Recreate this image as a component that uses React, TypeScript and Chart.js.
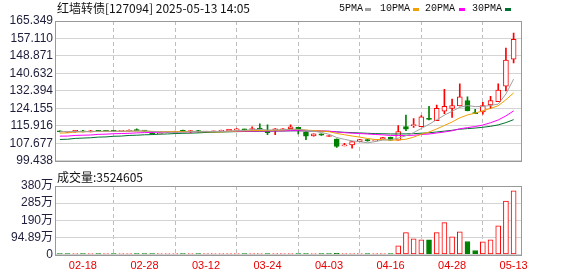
import React, { useEffect, useRef } from 'react';
import { Chart, registerables } from 'chart.js';
Chart.register(...registerables);

const dates = [
  '02-13','02-14','02-17','02-18','02-19','02-20','02-21','02-24','02-25','02-26',
  '02-27','02-28','03-03','03-04','03-05','03-06','03-07','03-10','03-11','03-12',
  '03-13','03-14','03-17','03-18','03-19','03-20','03-21','03-24','03-25','03-26',
  '03-27','03-28','03-31','04-01','04-02','04-03','04-07','04-08','04-09','04-10',
  '04-11','04-14','04-15','04-16','04-17','04-18','04-21','04-22','04-23','04-24',
  '04-25','04-28','04-29','04-30','05-06','05-07','05-08','05-09','05-12','05-13',
];

const opens = [
  113.35,112.9,113.0,113.4,113.05,113.5,113.8,113.5,113.3,113.35,
  114.1,113.6,112.6,112.15,112.9,112.9,113.5,113.2,113.7,113.0,
  113.05,113.3,113.5,114.0,114.3,114.2,114.85,113.9,113.8,113.95,
  114.56,115.17,113.03,111.2,112.1,110.9,109.7,106.5,106.95,108.5,
  109.4,108.85,109.7,110.5,109.2,115.6,116.0,115.5,119.4,118.4,
  122.8,124.15,125.35,127.8,122.15,122.5,125.8,127.3,134.65,147.4,
];
const highs = [
  113.4,113.1,113.85,113.8,113.8,113.8,113.85,113.8,113.45,114.0,
  114.55,113.7,112.7,112.6,113.1,113.4,113.9,113.8,113.8,113.2,
  113.2,113.9,114.3,114.6,114.35,115.5,116.85,116.4,114.6,114.6,
  116.4,115.2,113.1,112.2,112.2,111.4,109.8,107.7,108.5,109.6,
  109.5,109.2,110.5,110.6,116.1,120.96,119.3,120.8,125.1,125.7,
  133.1,128.5,135.7,129.6,123.7,127.0,129.8,135.7,152.6,159.7,
];
const lows = [
  113.1,112.8,112.9,113.0,113.0,113.3,113.3,113.2,113.2,113.3,
  113.6,113.3,112.1,112.1,112.8,112.9,113.2,112.6,112.9,112.9,
  113.0,113.2,113.4,114.0,113.9,113.9,114.3,111.8,111.8,113.9,
  114.5,112.1,109.4,111.1,111.4,110.8,105.7,106.5,105.45,108.4,
  108.7,108.7,109.6,109.1,109.2,113.6,115.2,115.5,118.7,118.4,
  121.7,119.9,125.35,123.0,121.6,121.4,124.0,127.3,132.4,145.6,
];
const closes = [
  113.15,113.0,113.8,113.05,113.5,113.35,113.35,113.3,113.35,113.8,
  113.65,113.4,112.15,112.5,113.0,113.35,113.3,113.7,113.0,113.1,
  113.1,113.5,114.3,114.3,114.0,114.3,114.4,112.7,114.56,114.56,
  115.48,113.8,111.06,112.1,111.5,111.3,106.2,106.7,108.5,109.5,
  108.8,109.0,110.4,109.2,113.2,114.4,116.4,120.2,118.95,124.15,
  125.06,125.5,129.6,123.1,121.7,125.5,127.8,132.8,146.95,156.7,
];
const volumes = [
  32000,25000,41000,28000,30000,22000,27000,19000,21000,35000,
  38000,24000,45000,30000,26000,29000,23000,31000,28000,20000,
  18000,26000,42000,33000,25000,36000,40000,48000,37000,29000,
  44000,39000,52000,30000,27000,24000,60000,35000,41000,38000,
  30000,26000,34000,40000,479000,1216000,866000,811000,811000,1216000,
  1769000,977000,1253000,719000,221000,700000,811000,1585000,2966000,3524605,
];

const ma5 = [
  113.2,113.15,113.25,113.2,113.3,113.34,113.41,113.31,113.37,113.43,
  113.49,113.5,113.27,113.1,112.94,112.88,112.86,113.17,113.27,113.29,
  113.24,113.28,113.4,113.66,113.84,114.08,114.26,113.94,113.99,114.1,
  114.34,114.22,113.89,113.4,112.79,111.95,110.43,109.56,108.84,108.44,
  107.94,108.5,109.24,109.38,110.12,111.24,112.72,114.68,116.63,118.82,
  120.95,122.77,124.65,125.48,124.99,125.08,125.54,126.18,130.95,137.95,
];
const ma10 = [
  112.5,112.6,113.0,113.1,113.2,113.25,113.3,113.3,113.35,113.37,
  113.42,113.46,113.29,113.24,113.19,113.19,113.18,113.22,113.19,113.12,
  113.06,113.07,113.29,113.47,113.57,113.66,113.77,113.67,113.83,113.97,
  114.21,114.24,113.92,113.7,113.45,113.15,112.33,111.73,111.12,110.61,
  109.95,109.47,109.4,109.11,109.28,109.59,110.61,111.96,113.0,114.47,
  116.1,117.75,119.67,121.06,121.91,123.02,124.16,125.42,128.22,131.47,
];
const ma20 = [
  111.06,111.1,111.4,111.5,111.6,111.9,112.0,112.2,112.3,112.4,
  112.6,112.75,112.8,112.9,112.95,113.0,113.05,113.1,113.2,113.24,
  113.24,113.26,113.29,113.35,113.38,113.42,113.48,113.45,113.51,113.54,
  113.64,113.66,113.6,113.58,113.51,113.4,113.05,112.7,112.47,112.29,
  112.08,111.85,111.66,111.4,111.36,111.37,111.47,111.84,112.06,112.54,
  113.02,113.61,114.53,115.08,115.59,116.3,117.38,118.69,120.61,122.97,
];
const ma30 = [
  109.5,109.6,110.0,110.15,110.3,110.6,110.7,111.0,111.1,111.4,
  111.5,111.7,111.8,112.0,112.1,112.3,112.4,112.5,112.6,112.8,
  112.9,113.0,113.1,113.2,113.25,113.3,113.35,113.4,113.45,113.48,
  113.56,113.59,113.5,113.47,113.4,113.33,113.09,112.87,112.71,112.57,
  112.41,112.26,112.2,112.09,112.1,112.13,112.24,112.45,112.65,113.02,
  113.42,113.82,114.33,114.62,114.88,115.25,115.7,116.37,117.45,118.85,
];

const priceTicks = [99.438, 107.677, 115.916, 124.155, 132.394, 140.632, 148.871, 157.110, 165.349];
const volTicks = [0, 948900, 1897800, 2846700, 3795600];
const volTickLabels = ['0', '94.89万', '190万', '285万', '380万'];
const dateTickIdx = [3, 11, 19, 27, 35, 43, 51, 59];

const RED = '#ff0000';
const GREEN = '#008000';
const MA_COLORS = ['#a0a0a0', '#f0a000', '#ff00ff', '#007030'];
const LABEL_FONT = "'Liberation Sans', 'Noto Sans CJK SC', sans-serif";

const framePlugin = {
  id: 'frame',
  afterDraw(chart: any) {
    const { ctx, chartArea: a } = chart;
    ctx.save();
    ctx.strokeStyle = '#999999';
    ctx.lineWidth = 1;
    ctx.strokeRect(Math.round(a.left) + 0.5, Math.round(a.top) + 0.5, Math.round(a.right - a.left) - 1, Math.round(a.bottom - a.top));
    ctx.restore();
  },
};

const X_MIN = -0.63;
const X_MAX = 60.09;

function xScale(showLabels: boolean, height: number) {
  return {
    type: 'linear',
    min: X_MIN,
    max: X_MAX,
    offset: false,
    afterBuildTicks: (s: any) => {
      s.ticks = dateTickIdx.map((v) => ({ value: v }));
    },
    afterFit: (s: any) => {
      s.height = height;
    },
    ticks: {
      display: showLabels,
      autoSkip: false,
      maxRotation: 0,
      padding: 5,
      color: '#e80000',
      font: { family: LABEL_FONT, size: 11 },
      callback: (v: any) => dates[Math.round(Number(v))] ?? '',
    },
    grid: { color: '#bdbdbd', drawTicks: false, lineWidth: 1 },
    border: { display: false, dash: [4, 3] },
  };
}

function yTicks(cb: (v: any, idx: number) => string) {
  return {
    color: '#1e1e3c',
    padding: 2,
    autoSkip: false,
    font: { family: LABEL_FONT, size: 12 },
    callback: cb,
  };
}

export default function App() {
  const priceRef = useRef<HTMLCanvasElement>(null);
  const volRef = useRef<HTMLCanvasElement>(null);

  useEffect(() => {
    const up = closes.map((c, i) => c >= opens[i]);
    const volUp = closes.map((c, i) => (i === 0 ? c >= opens[0] : c >= closes[i - 1]));

    const maLine = (arr: number[], color: string) => ({
      type: 'line',
      data: arr.map((y, i) => ({ x: i, y })),
      borderColor: color,
      borderWidth: 1,
      pointRadius: 0,
      order: 0,
    });

    const priceChart = new Chart(priceRef.current as HTMLCanvasElement, {
      type: 'bar',
      data: {
        datasets: [
          maLine(ma5, MA_COLORS[0]) as any,
          maLine(ma10, MA_COLORS[1]) as any,
          maLine(ma20, MA_COLORS[2]) as any,
          maLine(ma30, MA_COLORS[3]) as any,
          {
            type: 'bar',
            data: opens.map((o, i) => ({ x: i, y: [o, closes[i]] })),
            backgroundColor: up.map((u) => (u ? '#ffffff' : GREEN)),
            borderColor: up.map((u) => (u ? RED : GREEN)),
            borderWidth: 1,
            borderSkipped: false,
            barThickness: 5,
            minBarLength: 1,
            grouped: false,
            order: 1,
          } as any,
          {
            type: 'bar',
            data: lows.map((l, i) => ({ x: i, y: [l, highs[i]] })),
            backgroundColor: up.map((u) => (u ? RED : GREEN)),
            borderWidth: 0,
            barThickness: 1,
            minBarLength: 1,
            grouped: false,
            order: 2,
          } as any,
        ],
      },
      options: {
        responsive: false,
        animation: false,
        events: [],
        layout: { padding: { top: 21, right: 56, bottom: 5, left: 0 } },
        plugins: { legend: { display: false }, tooltip: { enabled: false } },
        scales: {
          x: xScale(false, 0) as any,
          y: {
            type: 'linear',
            min: 99.438,
            max: 165.349,
            afterBuildTicks: (s: any) => {
              s.ticks = priceTicks.map((v) => ({ value: v }));
            },
            afterFit: (s: any) => {
              s.width = 55;
            },
            ticks: yTicks((v: any) => Number(v).toFixed(3)),
            grid: { color: '#d4d4d4', drawTicks: false },
            border: { display: false },
          } as any,
        },
      },
      plugins: [framePlugin],
    });

    const volChart = new Chart(volRef.current as HTMLCanvasElement, {
      type: 'bar',
      data: {
        datasets: [
          {
            data: volumes.map((v, i) => ({ x: i, y: v })),
            backgroundColor: volUp.map((u) => (u ? '#ffffff' : GREEN)),
            borderColor: volUp.map((u) => (u ? RED : GREEN)),
            borderWidth: 1,
            borderSkipped: false,
            barThickness: 5,
            minBarLength: 1,
            grouped: false,
          } as any,
        ],
      },
      options: {
        responsive: false,
        animation: false,
        events: [],
        layout: { padding: { top: 16, right: 56, bottom: 0, left: 0 } },
        plugins: { legend: { display: false }, tooltip: { enabled: false } },
        scales: {
          x: xScale(true, 21.5) as any,
          y: {
            type: 'linear',
            min: 0,
            max: 3795600,
            afterBuildTicks: (s: any) => {
              s.ticks = volTicks.map((v) => ({ value: v }));
            },
            afterFit: (s: any) => {
              s.width = 55;
            },
            ticks: yTicks((_v: any, idx: number) => volTickLabels[idx]),
            grid: { color: '#d4d4d4', drawTicks: false },
            border: { display: false },
          } as any,
        },
      },
      plugins: [framePlugin],
    });

    return () => {
      priceChart.destroy();
      volChart.destroy();
    };
  }, []);

  const legend = [
    { label: '5PMA', x: 339, sx: 365 },
    { label: '10PMA', x: 380, sx: 413 },
    { label: '20PMA', x: 425, sx: 459 },
    { label: '30PMA', x: 472, sx: 505 },
  ];

  return (
    <div style={{ position: 'fixed', left: 0, top: 0, width: 578, height: 276, background: '#ffffff', overflow: 'hidden' }}>
      <canvas ref={priceRef} width={578} height={170} style={{ position: 'absolute', left: 0, top: 0 }} />
      <canvas ref={volRef} width={578} height={106} style={{ position: 'absolute', left: 0, top: 170 }} />
      <div style={{ position: 'absolute', left: 57, top: 2, font: "12px 'Noto Sans CJK SC'", lineHeight: '12px', color: '#111', whiteSpace: 'nowrap' }}>
        红墙转债[127094] 2025-05-13 14:05
      </div>
      {legend.map((l, i) => (
        <React.Fragment key={l.label}>
          <div style={{ position: 'absolute', left: l.x, top: 4, font: "10px 'Liberation Mono'", lineHeight: '10px', color: '#111', whiteSpace: 'nowrap' }}>
            {l.label}
          </div>
          <div style={{ position: 'absolute', left: l.sx, top: 8, width: 6, height: 3, background: MA_COLORS[i] }} />
        </React.Fragment>
      ))}
      <div style={{ position: 'absolute', left: 57, top: 171, font: "12px 'Noto Sans CJK SC'", lineHeight: '12px', color: '#111', whiteSpace: 'nowrap' }}>
        成交量:3524605
      </div>
    </div>
  );
}
